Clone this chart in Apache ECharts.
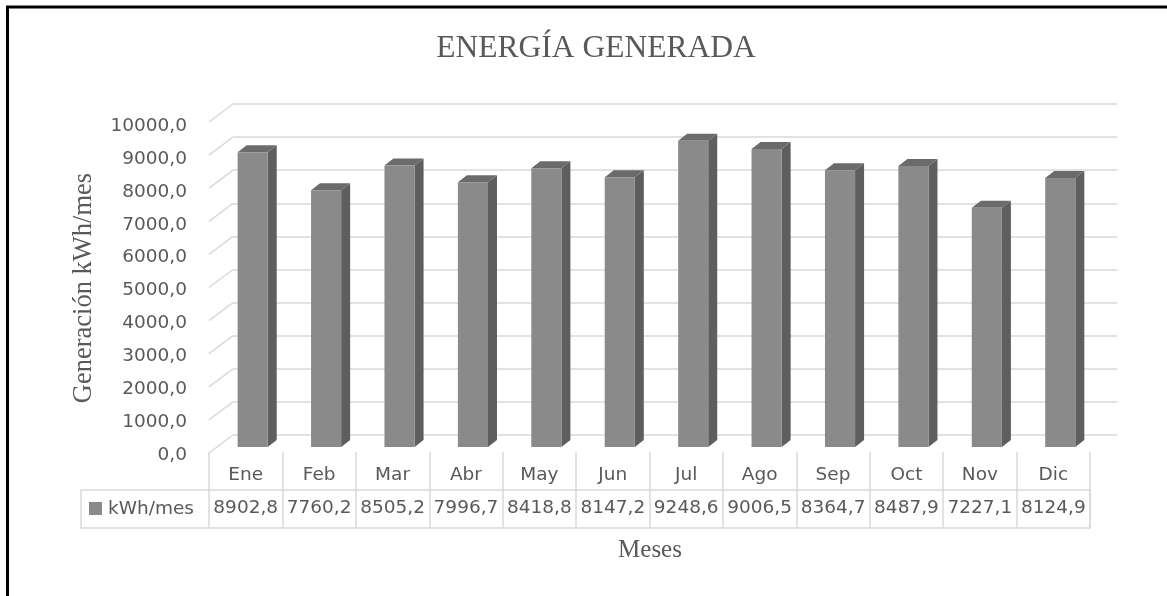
<!DOCTYPE html>
<html>
<head>
<meta charset="utf-8">
<script src="https://cdn.jsdelivr.net/npm/echarts@6/dist/echarts.min.js"></script>
<style>
html,body{margin:0;padding:0;background:#fff;}
#chart{width:1167px;height:596px;}
</style>
</head>
<body>
<div id="chart"></div>
<script>
const months = ['Ene','Feb','Mar','Abr','May','Jun','Jul','Ago','Sep','Oct','Nov','Dic'];
const values = [8902.8, 7760.2, 8505.2, 7996.7, 8418.8, 8147.2, 9248.6, 9006.5, 8364.7, 8487.9, 7227.1, 8124.9];
const yTicks = [0,1000,2000,3000,4000,5000,6000,7000,8000,9000,10000];
const seriesName = 'kWh/mes';
const titleText = 'ENERGÍA GENERADA';
const yTitle = 'Generación kWh/mes';
const xTitle = 'Meses';

const fmt = v => Number(v).toFixed(1).replace('.', ',');
const textColor = '#595959';
const gridColor = '#d9d9d9';
const sans = 'DejaVu Sans';
const serif = 'Liberation Serif';

const chart = echarts.init(document.getElementById('chart'), null, {renderer:'canvas'});
const option = {
  backgroundColor: '#fff',
  animation: false,
  title: {
    text: titleText, left: 591, top: 28, textAlign: 'center',
    textStyle: {fontFamily: serif, fontSize: 31.5, fontWeight: 'normal', color: textColor}
  },
  grid: [
    {left: 233, right: 50, top: 104, bottom: 161},
    {left: 209, right: 77, top: 121, bottom: 144},
    {left: 209, right: 77, top: 126, bottom: 141}
  ],
  xAxis: [
    {gridIndex: 0, type: 'value', min: 0, max: 1, show: false},
    {gridIndex: 1, type: 'category', data: months, boundaryGap: true, position: 'bottom',
     axisLine: {show: false},
     axisTick: {show: true, interval: 0, length: 76, lineStyle: {color: gridColor, width: 1.5}},
     axisLabel: {interval: 0, margin: 14, fontFamily: sans, fontSize: 18.5, color: textColor},
     splitLine: {show: false}},
    {gridIndex: 1, type: 'category', data: values.map(fmt), boundaryGap: true, position: 'bottom',
     axisLine: {show: false}, axisTick: {show: false},
     axisLabel: {interval: 0, margin: 47, fontFamily: sans, fontSize: 18.5, color: textColor},
     splitLine: {show: false}},
    {gridIndex: 2, type: 'value', min: 0, max: 1, show: false}
  ],
  yAxis: [
    {gridIndex: 0, type: 'value', min: 0, max: 10000, interval: 1000,
     axisLine: {show: false}, axisTick: {show: false}, axisLabel: {show: false},
     splitLine: {show: true, lineStyle: {color: gridColor, width: 1.5}}},
    {gridIndex: 1, type: 'value', min: 0, max: 10000, interval: 1000, show: false},
    {gridIndex: 2, type: 'value', min: 0, max: 10000, interval: 1000,
     axisLine: {show: false}, axisTick: {show: false}, splitLine: {show: false},
     axisLabel: {margin: 22, formatter: v => fmt(v), fontFamily: sans, fontSize: 18.5, color: textColor}}
  ],
  graphic: [
    {type: 'rect', shape: {x: 7.5, y: 7, width: 1200, height: 650}, style: {fill: 'none', stroke: '#000', lineWidth: 3}, z: 10},
    {type: 'rect', shape: {x: 81, y: 490, width: 1009, height: 38}, style: {fill: 'none', stroke: gridColor, lineWidth: 1.5}},
    {type: 'rect', shape: {x: 89, y: 502, width: 13, height: 13}, style: {fill: '#8a8a8a'}},
    {type: 'text', x: 108, y: 509, style: {text: seriesName, fontFamily: sans, fontSize: 18.5, fill: textColor, verticalAlign: 'middle', align: 'left'}},
    {type: 'text', x: 84, y: 288, rotation: Math.PI/2, style: {text: yTitle, fontFamily: serif, fontSize: 26.5, fill: textColor, verticalAlign: 'middle', align: 'center'}},
    {type: 'text', x: 650, y: 550, style: {text: xTitle, fontFamily: serif, fontSize: 25, fill: textColor, verticalAlign: 'middle', align: 'center'}}
  ],
  series: [
    {
      type: 'custom', name: 'stubs', xAxisIndex: 0, yAxisIndex: 0, silent: true,
      data: yTicks.map(v => [0, v]),
      renderItem: (params, api) => {
        const p = api.coord([0, api.value(1)]);
        return {type: 'line', shape: {x1: p[0], y1: p[1], x2: p[0]-24, y2: p[1]+18},
                style: {stroke: gridColor, lineWidth: 1.5}};
      }
    },
    {
      type: 'custom', name: seriesName, xAxisIndex: 1, yAxisIndex: 1,
      data: values.map((v, i) => [i, v]),
      renderItem: (params, api) => {
        const i = api.value(0);
        const c0 = api.coord([i, 0]);
        const c1 = api.coord([i, api.value(1)]);
        const band = api.size([1, 0])[0];
        const w = band * 0.41;
        const sx = band * 0.095, sy = -5;
        const dx = 9, dy = -7;
        const xl = c0[0] + sx - w/2, xr = xl + w;
        const yb = c0[1] + sy, yt = c1[1] + sy;
        return {type: 'group', children: [
          {type: 'polygon', shape: {points: [[xr,yb],[xr+dx,yb+dy],[xr+dx,yt+dy],[xr,yt]]}, style: {fill: '#5e5e5e'}},
          {type: 'polygon', shape: {points: [[xl,yt],[xl+dx,yt+dy],[xr+dx,yt+dy],[xr,yt]]}, style: {fill: '#6b6b6b'}},
          {type: 'rect', shape: {x: xl, y: yt, width: w, height: yb - yt}, style: {fill: '#8a8a8a'}}
        ]};
      }
    }
  ]
};
chart.setOption(option);
</script>
</body>
</html>
